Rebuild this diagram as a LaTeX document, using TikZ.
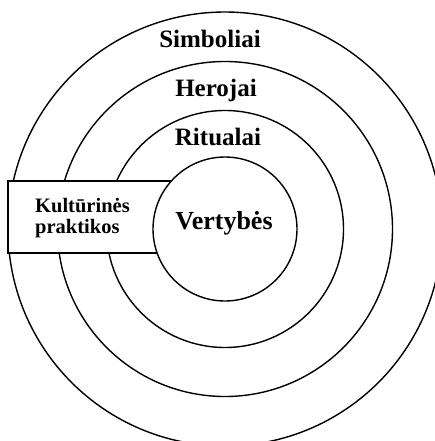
\documentclass[tikz,border=0pt]{standalone}
\usepackage{fontspec}
\setmainfont{Liberation Serif}
\begin{document}
\begin{tikzpicture}[x=1pt,y=-1pt,
  ring/.style={draw,circle,line width=1.4pt,inner sep=0pt,fill=white},
  lbl/.style={font=\bfseries\fontsize{25}{28}\selectfont,anchor=base,inner sep=0pt},
  boxlbl/.style={font=\bfseries\fontsize{20.5}{22}\selectfont,anchor=base west,inner sep=0pt}]
\useasboundingbox (0,0) rectangle (435,441);
\begin{scope}
\clip (0,0) rectangle (435,441);
\node[ring,minimum size=434pt] (c4) at (225,229) {};
\node[ring,minimum size=335pt] (c3) at (225,229) {};
\node[ring,minimum size=237pt] (c2) at (225,229) {};
\draw[line width=1.4pt,fill=white] (8,181) rectangle (200,253);
\node[ring,minimum size=144pt] (c1) at (225,229) {};
\end{scope}
\node[lbl] (simb) at (210,48) {Simboliai};
\node[lbl] (hero) at (216,97) {Herojai};
\node[lbl] (rit) at (218,145) {Ritualai};
\node[lbl,font=\bfseries\fontsize{26}{28}\selectfont] (vert) at (224,229) {Vertybės};
\node[boxlbl] (k1) at (35,212) {Kultūrinės};
\node[boxlbl] (k2) at (35,233) {praktikos};
\end{tikzpicture}
\end{document}
